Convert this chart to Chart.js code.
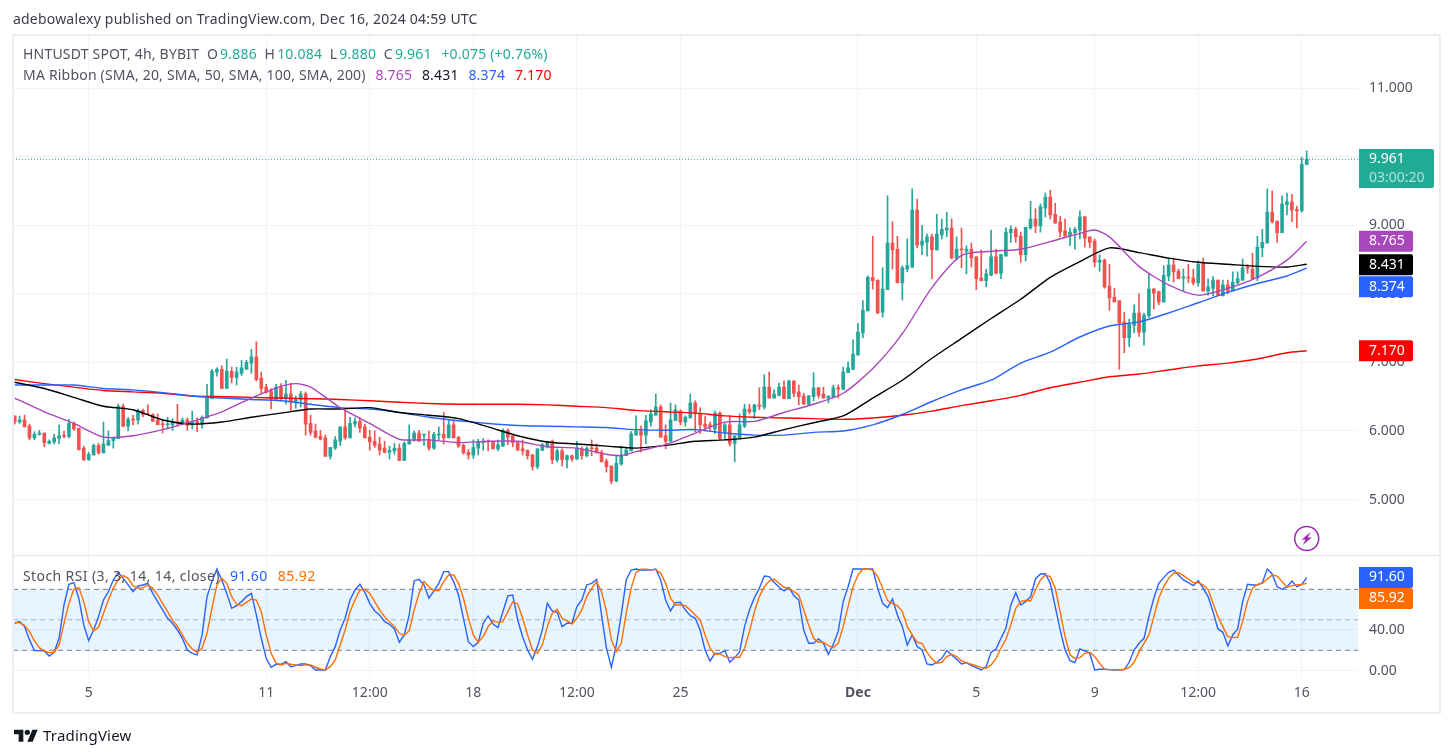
<!DOCTYPE html>
<html>
<head>
<meta charset="utf-8">
<title>HNTUSDT</title>
<script src="https://cdn.jsdelivr.net/npm/chart.js@4/dist/chart.umd.min.js"></script>
<style>
  html, body { margin: 0; padding: 0; background: #fff; }
  body { width: 1453px; height: 756px; position: relative; overflow: hidden; font-family: "Noto Sans", sans-serif; color: #50535e; }
  canvas { position: absolute; left: 0; }
  .txt { position: absolute; white-space: pre; font-size: 14px; line-height: 18px; letter-spacing: 0.2px; }
  .txt span { margin-left: 2px; }
  #frame { position: absolute; left: 12px; top: 34px; width: 1425px; height: 676px; border: 2px solid #eceef4; }
  #sep { position: absolute; left: 13px; top: 555px; width: 1426px; height: 1px; background: #e0e3eb; }
</style>
</head>
<body>
<canvas id="priceChart" width="1453" height="556" style="top:0"></canvas>
<canvas id="stochChart" width="1453" height="200" style="top:556px"></canvas>
<div id="frame"></div>
<div id="sep"></div>

<div class="txt" style="left:13px;top:10px;color:#3b3e47">adebowalexy published on TradingView.com, Dec 16, 2024 04:59 UTC</div>
<div class="txt" style="left:23px;top:45px">HNTUSDT SPOT, 4h, BYBIT  O<span style="color:#22ab94">9.886</span>  H<span style="color:#22ab94">10.084</span>  L<span style="color:#22ab94">9.880</span>  C<span style="color:#22ab94">9.961</span>  <span style="color:#22ab94">+0.075 (+0.76%)</span></div>
<div class="txt" style="left:23px;top:66px">MA Ribbon (SMA, 20, SMA, 50, SMA, 100, SMA, 200)  <span style="color:#ab47bc">8.765</span>  <span style="color:#131722">8.431</span>  <span style="color:#2962ff">8.374</span>  <span style="color:#ff0000">7.170</span></div>
<div class="txt" style="left:23px;top:567px;letter-spacing:0.4px">Stoch RSI (3, 3, 14, 14, close)  <span style="color:#2962ff">91.60</span>  <span style="color:#ff6d00">85.92</span></div>

<svg style="position:absolute;left:14px;top:727px" width="24" height="16" viewBox="0 0 36 24"><path fill="#131722" d="M14 22H7V11H0V4h14v18zM28 22h-8l7.5-18h8L28 22z"/><circle fill="#131722" cx="20" cy="8" r="4"/></svg>
<div class="txt" style="left:43px;top:726px;color:#131722;font-size:15px">TradingView</div>

<script>
// 4h candles, oldest first
const opens = [
  6.22,6.13,6.16,6.07,5.90,5.95,5.97,5.82,5.84,5.89,
  5.93,5.92,6.11,6.04,5.75,5.58,5.65,5.79,5.68,5.79,
  5.86,5.89,6.36,6.07,6.17,6.16,6.30,6.25,6.24,6.16,
  6.10,6.09,6.09,6.13,6.10,6.16,6.09,6.14,6.12,6.19,
  6.47,6.86,6.90,6.62,6.87,6.78,6.84,6.90,6.99,7.08,
  6.77,6.64,6.58,6.46,6.64,6.48,6.54,6.42,6.45,6.54,
  6.11,6.00,5.92,5.90,5.63,5.75,5.85,6.06,5.90,6.10,
  6.14,6.06,5.91,5.85,5.81,5.75,5.69,5.71,5.75,5.57,
  5.81,5.87,5.97,5.94,5.88,5.75,5.94,5.95,5.90,6.09,
  5.91,5.79,5.69,5.65,5.75,5.83,5.85,5.85,5.74,5.78,
  6.01,5.93,5.83,5.74,5.72,5.65,5.48,5.72,5.77,5.85,
  5.58,5.71,5.58,5.64,5.59,5.74,5.64,5.75,5.75,5.69,
  5.56,5.49,5.27,5.52,5.64,5.71,5.94,6.00,5.94,6.13,
  6.23,6.35,5.93,5.85,6.15,6.29,6.13,6.19,6.41,6.26,
  6.10,6.09,6.03,6.26,5.98,6.09,5.82,5.89,6.07,6.32,
  6.28,6.38,6.35,6.64,6.48,6.52,6.64,6.47,6.73,6.57,
  6.51,6.39,6.50,6.63,6.54,6.48,6.50,6.63,6.61,6.85,
  6.90,7.11,7.43,7.75,8.24,8.20,7.73,8.06,8.74,8.65,
  8.16,8.36,8.39,9.22,8.71,8.75,8.83,8.64,8.86,8.93,
  8.96,8.52,8.65,8.62,8.65,8.54,8.23,8.19,8.27,8.54,
  8.30,8.55,8.89,8.94,8.84,8.57,8.96,9.09,8.99,9.25,
  9.41,9.16,9.05,8.92,8.84,8.89,8.93,9.12,8.83,8.77,
  8.46,8.49,8.11,7.95,7.90,7.59,7.36,7.54,7.72,7.44,
  7.68,8.07,8.03,7.88,8.26,8.42,8.33,8.23,8.24,8.23,
  8.16,8.46,8.04,8.08,8.20,7.97,8.13,8.04,8.16,8.20,
  8.38,8.36,8.23,8.67,8.74,9.19,9.06,8.89,9.30,9.34,
  9.23,9.21,9.886
];
const highs = [
  6.22,6.22,6.23,6.10,5.99,6.01,5.97,5.87,5.95,6.09,
  6.00,6.17,6.13,6.04,5.78,5.69,5.81,5.82,6.13,6.00,
  5.90,6.39,6.39,6.20,6.23,6.32,6.32,6.38,6.25,6.25,
  6.16,6.20,6.18,6.39,6.19,6.19,6.29,6.19,6.22,6.68,
  6.90,6.92,6.95,7.05,6.93,6.93,7.03,7.03,7.19,7.30,
  6.86,6.68,6.62,6.68,6.69,6.74,6.70,6.51,6.58,6.57,
  6.23,6.10,6.01,5.94,5.76,5.92,6.06,6.30,6.20,6.19,
  6.19,6.10,6.01,6.00,5.91,5.85,5.78,5.82,5.81,5.84,
  6.09,6.00,6.01,5.95,6.00,5.98,6.06,6.27,6.17,6.14,
  5.92,5.81,5.73,5.87,5.88,5.89,5.87,5.85,5.87,6.03,
  6.03,5.93,5.83,5.87,5.72,5.66,5.74,5.82,5.85,5.87,
  5.74,5.74,5.65,5.65,5.85,5.77,5.77,5.87,5.81,5.72,
  5.59,5.49,5.65,5.78,5.75,5.99,6.22,6.07,6.23,6.31,
  6.54,6.38,6.09,6.41,6.38,6.31,6.22,6.54,6.44,6.34,
  6.21,6.13,6.29,6.28,6.11,6.22,5.93,6.25,6.39,6.39,
  6.39,6.63,6.82,6.86,6.60,6.70,6.73,6.74,6.73,6.67,
  6.55,6.52,6.85,6.63,6.64,6.51,6.67,6.67,6.93,7.01,
  7.33,7.57,7.90,8.26,8.84,8.20,8.38,9.43,9.05,8.84,
  8.41,8.80,9.53,9.38,9.00,8.87,8.87,9.16,9.09,9.19,
  9.09,8.83,8.96,8.70,8.74,8.54,8.64,8.36,8.93,8.65,
  8.58,8.96,8.99,8.97,8.90,8.97,9.35,9.24,9.31,9.47,
  9.51,9.32,9.13,9.09,8.96,8.97,9.21,9.13,8.83,8.80,
  8.57,8.51,8.43,8.08,7.90,7.73,7.63,7.84,8.00,7.72,
  8.29,8.08,8.04,8.41,8.52,8.52,8.36,8.36,8.43,8.36,
  8.48,8.52,8.22,8.25,8.20,8.20,8.20,8.32,8.32,8.51,
  8.43,8.59,8.84,8.94,9.53,9.50,9.06,9.43,9.47,9.45,
  9.28,9.99,10.084
];
const lows = [
  6.10,6.11,6.06,5.87,5.87,5.94,5.77,5.81,5.81,5.81,
  5.90,5.90,6.01,5.72,5.57,5.57,5.65,5.66,5.68,5.79,
  5.75,5.89,6.06,6.00,6.09,6.10,6.21,6.23,6.14,6.09,
  5.97,6.03,6.01,6.07,6.09,6.01,6.03,5.99,6.04,6.19,
  6.47,6.80,6.62,6.62,6.70,6.67,6.81,6.90,6.84,6.73,
  6.55,6.55,6.32,6.46,6.46,6.39,6.30,6.33,6.35,5.94,
  5.94,5.90,5.87,5.63,5.59,5.73,5.79,5.88,5.90,6.06,
  5.98,5.90,5.72,5.76,5.65,5.68,5.59,5.66,5.57,5.57,
  5.81,5.85,5.85,5.79,5.72,5.73,5.87,5.81,5.90,5.90,
  5.76,5.66,5.59,5.60,5.65,5.72,5.71,5.74,5.71,5.77,
  5.80,5.77,5.72,5.65,5.59,5.43,5.45,5.71,5.75,5.52,
  5.55,5.49,5.46,5.56,5.59,5.59,5.62,5.64,5.68,5.55,
  5.40,5.23,5.26,5.50,5.64,5.71,5.94,5.69,5.81,6.07,
  6.23,5.91,5.74,5.85,6.15,6.09,6.07,6.19,5.99,5.96,
  6.00,6.00,5.96,5.87,5.87,5.78,5.55,5.88,6.05,6.25,
  6.18,6.31,6.32,6.48,6.48,6.51,6.47,6.47,6.50,6.38,
  6.39,6.38,6.44,6.48,6.48,6.41,6.48,6.48,6.60,6.85,
  6.89,7.10,7.36,7.75,8.07,7.71,7.66,8.06,8.36,8.16,
  7.91,8.32,8.38,8.67,8.57,8.55,8.22,8.64,8.80,8.83,
  8.51,8.49,8.38,8.29,8.39,8.06,8.19,8.10,8.26,8.29,
  8.22,8.55,8.75,8.75,8.46,8.48,8.94,8.89,8.90,9.12,
  9.09,9.03,8.83,8.84,8.70,8.65,8.80,8.68,8.67,8.39,
  8.33,8.08,7.76,7.88,6.90,7.14,7.23,7.43,7.38,7.25,
  7.65,7.78,7.84,7.88,8.19,8.17,8.22,8.03,8.16,8.13,
  8.11,8.04,7.98,7.97,7.98,7.97,8.00,8.04,8.14,8.19,
  8.30,8.22,8.19,8.54,8.74,9.03,8.75,8.89,9.15,9.05,
  8.96,9.19,9.880
];
const closes = [
  6.13,6.16,6.06,5.90,5.95,5.97,5.83,5.85,5.90,5.93,
  5.92,6.11,6.03,5.73,5.58,5.66,5.79,5.68,5.81,5.86,
  5.90,6.36,6.07,6.17,6.16,6.30,6.24,6.24,6.14,6.09,
  6.09,6.10,6.13,6.12,6.16,6.08,6.14,6.12,6.20,6.48,
  6.87,6.90,6.62,6.87,6.78,6.86,6.92,7.00,7.08,6.75,
  6.62,6.56,6.46,6.64,6.47,6.54,6.43,6.46,6.54,6.10,
  5.98,5.91,5.88,5.63,5.76,5.87,6.06,5.90,6.11,6.14,
  6.04,5.90,5.84,5.79,5.72,5.69,5.72,5.75,5.57,5.82,
  5.88,5.97,5.85,5.95,5.75,5.95,5.95,5.90,6.09,5.90,
  5.78,5.68,5.65,5.76,5.84,5.84,5.84,5.74,5.80,6.01,
  5.91,5.83,5.72,5.71,5.64,5.48,5.74,5.80,5.85,5.58,
  5.71,5.58,5.64,5.59,5.75,5.64,5.75,5.74,5.68,5.55,
  5.48,5.27,5.53,5.65,5.72,5.96,6.00,5.94,6.15,6.25,
  6.35,5.91,5.85,6.16,6.31,6.13,6.20,6.41,6.26,6.09,
  6.06,6.06,6.26,5.89,6.09,5.82,5.93,6.09,6.32,6.28,
  6.38,6.36,6.64,6.48,6.54,6.64,6.47,6.73,6.55,6.50,
  6.39,6.51,6.63,6.52,6.48,6.51,6.63,6.61,6.86,6.92,
  7.12,7.44,7.76,8.24,8.19,7.72,8.07,8.74,8.64,8.16,
  8.38,8.41,9.22,8.71,8.77,8.83,8.64,8.87,8.94,8.96,
  8.52,8.65,8.64,8.65,8.52,8.22,8.19,8.29,8.54,8.30,
  8.57,8.90,8.94,8.83,8.57,8.97,9.09,8.99,9.27,9.41,
  9.15,9.03,8.90,8.84,8.90,8.94,9.12,8.81,8.75,8.46,
  8.49,8.10,7.94,7.88,7.57,7.36,7.56,7.72,7.44,7.69,
  8.07,8.01,7.88,8.27,8.42,8.32,8.22,8.24,8.23,8.16,
  8.43,8.04,8.10,8.20,7.98,8.13,8.04,8.17,8.22,8.38,
  8.37,8.22,8.68,8.75,9.19,9.05,8.89,9.31,9.34,9.22,
  9.21,9.89,9.961
];

// moving averages, read about once a day off the picture
const maBars = [0,6,12,18,24,30,36,42,48,54,60,66,72,78,84,90,96,102,108,114,120,126,132,138,144,150,156,162,168,174,180,186,192,198,204,210,216,222,228,234,240,246,252,258,262];
const sma200 = [6.75,6.69,6.64,6.59,6.57,6.55,6.51,6.50,6.49,6.48,6.47,6.46,6.44,6.42,6.40,6.39,6.39,6.39,6.38,6.36,6.34,6.30,6.28,6.26,6.22,6.20,6.19,6.18,6.17,6.19,6.23,6.29,6.37,6.44,6.52,6.63,6.71,6.79,6.83,6.89,6.95,6.99,7.05,7.14,7.17];
const sma100 = [6.67,6.67,6.67,6.62,6.60,6.56,6.51,6.48,6.46,6.44,6.39,6.34,6.32,6.27,6.20,6.15,6.11,6.08,6.07,6.06,6.05,6.02,6.01,6.02,5.97,5.94,5.94,5.98,6.00,6.09,6.24,6.43,6.60,6.74,6.99,7.15,7.37,7.53,7.59,7.72,7.87,8.02,8.15,8.26,8.374];
const sma50 = [6.71,6.62,6.49,6.36,6.31,6.16,6.10,6.13,6.20,6.26,6.32,6.32,6.34,6.27,6.23,6.18,6.06,5.93,5.84,5.81,5.78,5.75,5.79,5.85,5.87,5.91,6.02,6.12,6.22,6.48,6.74,7.06,7.35,7.64,7.92,8.24,8.47,8.67,8.60,8.52,8.46,8.43,8.40,8.39,8.431];
const sma20Bars = [0,6,12,18,24,30,36,42,48,54,57,60,66,72,78,84,90,96,102,108,114,120,123,126,132,138,144,150,156,162,168,174,180,186,192,198,204,210,216,219,222,228,234,240,246,252,258,262];
const sma20 = [6.48,6.28,6.11,5.91,5.93,6.02,6.14,6.28,6.48,6.65,6.69,6.64,6.34,6.11,5.88,5.87,5.83,5.85,5.85,5.77,5.75,5.66,5.64,5.70,5.80,5.97,6.13,6.14,6.27,6.39,6.55,6.91,7.42,8.09,8.56,8.62,8.65,8.76,8.88,8.93,8.83,8.40,8.13,7.98,8.08,8.24,8.49,8.765];

// Stoch RSI, one value per candle
const stochK = [
  46.6,48.2,43.3,30.2,19.7,19.7,19.3,14.4,18,31.8,
  64.6,84.9,86.6,71.2,44.9,29.5,40,53.1,69.5,77.7,
  89.2,96.7,90.8,84.3,77.7,83.3,84.3,85.9,76,67.9,
  59.7,51.5,46.6,40,31.8,20.3,17,15.4,35.1,72.8,
  87.6,100,89.2,76,61.3,63.9,67.9,72.8,76,54.8,
  31.8,12.1,3.3,6.2,6.2,8.8,3.9,4.9,6.5,6.5,
  4.9,.6,.6,.6,13.8,23.6,40,51.5,69.5,79.4,
  85,77,66.2,58.7,54.8,48.2,45.6,41,27.9,35.1,
  54.8,88.5,89.9,84.3,71.2,78.4,85.9,97.4,97.4,87.6,
  74.4,51.5,28.5,23.6,27.9,46.6,53.8,45.9,42.3,58,
  73.5,74.4,49.8,33.4,20.3,11.1,23.6,40,66.2,58.7,
  57.4,43.3,46.6,46.6,63,69.5,84.3,85.9,89.9,54.8,
  22,3.3,25.2,54.8,89.2,99,100,99,99,99,
  100,89.2,69.5,58.7,66.9,67.2,59.7,54.1,51.5,40,
  20.3,9.5,17,17,19.7,8.2,12.8,18.7,43.3,59.7,
  71.8,81,93.1,92.5,86.9,82,78.4,81.7,73.8,69.5,
  40,26.9,26.9,31.1,26.9,16.1,25.9,38.6,67.9,82.6,
  100,100,100,100,100,81,66.2,62,70.5,54.8,
  43.3,25.2,35.1,23.6,20.3,6.5,5.6,8.2,12.1,19.7,
  15.4,11.1,6.5,7.9,4.9,2.9,.6,3.9,18,21.3,
  31.8,41.6,64.6,76.7,64.6,67.9,72.8,90.2,95.1,95.4,
  85.9,63,40,20.3,9.8,7.9,21.3,19.3,17,.6,
  1.3,1.3,1,.6,.6,1,8.2,20.3,26.9,31.8,
  53.1,71.2,85.9,91.5,96.7,99,94.1,89.2,86.6,83.6,
  88.5,81,72.8,58,41,37.7,24.3,35.1,41,67.9,
  84.9,84.3,84.3,86.6,100,95.1,82.6,80,82.6,88.2,
  82.6,84.9,91.6
];
const stochD = [
  47.2,47.2,44.3,38.4,29.2,22.6,19.3,17.7,18,25.2,
  46.6,66.2,80.3,81.7,67.9,48.2,39,42.6,56.4,69.5,
  81,90.2,93.5,90.8,83.6,81,81.7,84.3,81,74.4,
  66.2,58,49.8,43.3,35.1,26.9,21.3,18,22,36.7,
  61.3,84.3,90.8,85.9,72.8,65.3,63.9,67.2,70.5,69.5,
  58,35.1,17,7.2,5.6,7.2,6.2,5.6,4.9,5.6,
  5.6,3.3,1.6,.6,3.9,10.5,25.2,40,58,69.5,
  79.4,80,76,67.9,59.7,53.1,48.2,43.3,36.7,34.4,
  39.3,59.7,76,87.6,82.6,78.7,78.7,87.6,94.1,94.1,
  85.9,71.2,51.5,35.1,27.9,33.4,43.3,48.9,47.5,48.2,
  58,67.9,65.6,51.5,35.1,20.3,17,25.2,43.3,56.4,
  60.3,51.5,48.9,45.9,51.5,59.7,72.8,81,87.6,77.7,
  58,30.2,18.7,26.9,56.4,81,96.7,99.7,99.7,99.4,
  99.4,95.8,85.9,71.2,64.6,64.6,63.9,59.7,54.8,49.8,
  35.1,22,16.1,16.4,13.8,12.8,13.1,13.1,22,38.4,
  58,72.8,82.6,88.2,90.2,85.9,82,81,77.7,74.4,
  59.7,44.9,31.8,27.9,27.9,24.6,22.6,26.9,43.3,63,
  82.6,94.1,100,100,99,92.5,81,68.9,66.2,63.9,
  58,43.3,35.1,27.9,26.9,18,11.5,7.2,8.2,13.8,
  16.1,13.8,9.5,7.9,6.2,4.9,2.9,2.3,5.6,12.1,
  22,30.8,44.9,61.3,67.9,69.2,68.5,79.4,89.2,94.1,
  92.5,81,58,33.4,15.4,12.1,12.8,17,18,13.8,
  7.2,1.3,1,1,.6,1.3,2.9,8.2,18.7,26.9,
  35.1,53.1,71.2,82.6,90.8,95.8,96.4,93.5,90.2,86.6,
  86.6,84.3,80,66.2,53.1,43.3,33.4,32.5,32.8,48.2,
  67.9,81,84.9,85.9,90.2,94.1,93.1,87.6,82,83.6,
  84.3,84.9,85.92
];

// axis ticks
const priceTicks = [5, 6, 7, 8, 9, 10, 11];
const stochTicks = [0, 40];
const timeTickBars = [15, 51, 72, 93, 114, 135, 171, 195, 219, 240, 261];
const timeTickLabels = ["5", "11", "12:00", "18", "12:00", "25", "Dec", "5", "9", "12:00", "16"];
const lastPrice = 9.961;

// the visible window, in bars
const xMin = -0.345;
const xMax = 272.4;

const UP = "#26a69a";
const DOWN = "#ef5350";
const TAG_UP = "#22ab94";
const GRID = "#f0f3fa";
const FONT = '"Noto Sans", sans-serif';
const candleColors = opens.map((o, i) => (closes[i] >= o ? UP : DOWN));

function pairs(bars, values) {
  return bars.map((b, i) => ({ x: b, y: values[i] }));
}

function lineSet(label, data, color, width) {
  return { type: "line", label, data, borderColor: color, borderWidth: width, pointRadius: 0, tension: 0.25, order: 1 };
}

// scales must not reserve room for their labels inside the panes
function noPadding(s) {
  s.paddingTop = 0;
  s.paddingBottom = 0;
  s.paddingLeft = 0;
  s.paddingRight = 0;
}

function xScale() {
  return {
    type: "linear",
    min: xMin,
    max: xMax,
    offset: false,
    afterBuildTicks: (s) => { s.ticks = timeTickBars.map((v) => ({ value: v })); },
    grid: { color: GRID, drawTicks: false, offset: false },
    border: { display: false },
  };
}

// coloured value tags on the price scale
function drawTag(ctx, text, color, y) {
  ctx.fillStyle = color;
  ctx.beginPath();
  ctx.roundRect(1359, y - 10.5, 54, 21, [0, 2, 2, 0]);
  ctx.fill();
  ctx.fillStyle = "#fff";
  ctx.font = "14px " + FONT;
  ctx.textAlign = "left";
  ctx.textBaseline = "middle";
  ctx.fillText(text, 1369, y);
}

const priceTags = {
  id: "priceTags",
  afterDraw(chart) {
    const ctx = chart.ctx;
    const y = chart.scales.y;
    ctx.save();
    // last price with the countdown below it
    ctx.fillStyle = TAG_UP;
    ctx.beginPath();
    ctx.roundRect(1359, 149, 75, 39, [0, 2, 2, 0]);
    ctx.fill();
    ctx.font = "14px " + FONT;
    ctx.textBaseline = "middle";
    ctx.fillStyle = "#fff";
    ctx.fillText(lastPrice.toFixed(3), 1369, 159);
    ctx.fillStyle = "rgba(255,255,255,0.65)";
    ctx.fillText("03:00:20", 1369, 178);

    drawTag(ctx, sma20[sma20.length - 1].toFixed(3), "#ab47bc", y.getPixelForValue(sma20[sma20.length - 1]));
    drawTag(ctx, sma50[sma50.length - 1].toFixed(3), "#000000", y.getPixelForValue(sma50[sma50.length - 1]) + 0.5);
    // pushed down so it does not sit on the black tag
    drawTag(ctx, sma100[sma100.length - 1].toFixed(3), "#2962ff", y.getPixelForValue(sma100[sma100.length - 1]) + 18.5);
    drawTag(ctx, sma200[sma200.length - 1].toFixed(3), "#ff0000", y.getPixelForValue(sma200[sma200.length - 1]));

    // lightning badge
    const bx = chart.scales.x.getPixelForValue(262);
    ctx.strokeStyle = "#9c27b0";
    ctx.lineWidth = 1.5;
    ctx.beginPath();
    ctx.arc(bx, 538.5, 12, 0, Math.PI * 2);
    ctx.stroke();
    ctx.fillStyle = "#9c27b0";
    ctx.beginPath();
    ctx.moveTo(bx + 4, 532);
    ctx.lineTo(bx - 5, 539.5);
    ctx.lineTo(bx - 1, 539.5);
    ctx.lineTo(bx - 4, 545);
    ctx.lineTo(bx + 5, 537.5);
    ctx.lineTo(bx + 1, 537.5);
    ctx.closePath();
    ctx.fill();
    ctx.restore();
  },
};

const stochTags = {
  id: "stochTags",
  afterDraw(chart) {
    const ctx = chart.ctx;
    ctx.save();
    drawTag(ctx, "91.60", "#2962ff", 21.5);
    drawTag(ctx, "85.92", "#ff6d00", 42.5);
    ctx.restore();
  },
};

new Chart(document.getElementById("priceChart"), {
  data: {
    datasets: [
      lineSet("SMA 20", pairs(sma20Bars, sma20), "#ab47bc", 1.4),
      lineSet("SMA 50", pairs(maBars, sma50), "#000000", 1.4),
      lineSet("SMA 100", pairs(maBars, sma100), "#2962ff", 1.4),
      lineSet("SMA 200", pairs(maBars, sma200), "#ff0000", 1.4),
      {
        type: "line",
        label: "Last",
        data: [{ x: xMin, y: lastPrice }, { x: xMax, y: lastPrice }],
        borderColor: TAG_UP,
        borderWidth: 1,
        borderDash: [1, 2],
        pointRadius: 0,
        order: 1,
      },
      {
        type: "bar",
        label: "Body",
        data: opens.map((o, i) => ({ x: i, y: [o, closes[i]] })),
        backgroundColor: candleColors,
        barThickness: 3,
        minBarLength: 1,
        grouped: false,
        order: 2,
      },
      {
        type: "bar",
        label: "Wick",
        data: highs.map((h, i) => ({ x: i, y: [lows[i], h] })),
        backgroundColor: candleColors,
        barThickness: 1,
        grouped: false,
        order: 3,
      },
    ],
  },
  options: {
    responsive: false,
    animation: false,
    devicePixelRatio: 1,
    layout: { autoPadding: false, padding: { left: 13, top: 35, right: 0, bottom: 1 } },
    plugins: { legend: { display: false }, tooltip: { enabled: false } },
    scales: {
      x: Object.assign(xScale(), {
        ticks: { display: false },
        afterFit: (s) => { s.height = 0; noPadding(s); },
      }),
      y: {
        position: "right",
        min: 4.192,
        max: 11.773,
        afterBuildTicks: (s) => { s.ticks = priceTicks.map((v) => ({ value: v })); },
        afterFit: (s) => { s.width = 95; noPadding(s); },
        grid: { color: GRID, drawTicks: false },
        border: { display: false },
        ticks: {
          padding: 11,
          color: "#50535e",
          font: { family: FONT, size: 14 },
          callback: (v) => v.toFixed(3),
        },
      },
    },
  },
  plugins: [priceTags],
});

new Chart(document.getElementById("stochChart"), {
  data: {
    labels: [],
    datasets: [
      {
        type: "line",
        label: "Upper",
        data: [{ x: xMin, y: 80 }, { x: xMax, y: 80 }],
        borderColor: "#787b86",
        borderWidth: 1,
        borderDash: [5, 4],
        pointRadius: 0,
        backgroundColor: "rgba(33,150,243,0.1)",
        fill: "+1",
        order: 3,
      },
      {
        type: "line",
        label: "Lower",
        data: [{ x: xMin, y: 20 }, { x: xMax, y: 20 }],
        borderColor: "#787b86",
        borderWidth: 1,
        borderDash: [5, 4],
        pointRadius: 0,
        order: 3,
      },
      {
        type: "line",
        label: "Middle",
        data: [{ x: xMin, y: 50 }, { x: xMax, y: 50 }],
        borderColor: "rgba(120,123,134,0.55)",
        borderWidth: 1,
        borderDash: [5, 4],
        pointRadius: 0,
        order: 3,
      },
      {
        type: "line",
        label: "%D",
        data: stochD.map((v, i) => ({ x: i, y: v })),
        borderColor: "#ff6d00",
        borderWidth: 1.4,
        pointRadius: 0,
        order: 1,
      },
      {
        type: "line",
        label: "%K",
        data: stochK.map((v, i) => ({ x: i, y: v })),
        borderColor: "#2962ff",
        borderWidth: 1.4,
        pointRadius: 0,
        order: 2,
      },
    ],
  },
  options: {
    responsive: false,
    animation: false,
    devicePixelRatio: 1,
    layout: { autoPadding: false, padding: { left: 13, top: 0, right: 0, bottom: 0 } },
    plugins: { legend: { display: false }, tooltip: { enabled: false } },
    scales: {
      x: Object.assign(xScale(), {
        afterFit: (s) => { s.height = 79; noPadding(s); },
        ticks: {
          padding: 8,
          autoSkip: false,
          maxRotation: 0,
          color: "#50535e",
          font: (c) => ({ family: FONT, size: 14, weight: timeTickLabels[c.index] === "Dec" ? "bold" : "normal" }),
          callback: (v, i) => timeTickLabels[i],
        },
      }),
      y: {
        position: "right",
        min: -6.3,
        max: 112.8,
        afterBuildTicks: (s) => { s.ticks = stochTicks.map((v) => ({ value: v })); },
        afterFit: (s) => { s.width = 95; noPadding(s); },
        grid: { color: GRID, drawTicks: false },
        border: { display: false },
        ticks: {
          padding: 11,
          color: "#50535e",
          font: { family: FONT, size: 14 },
          callback: (v) => v.toFixed(2),
        },
      },
    },
  },
  plugins: [stochTags],
});
</script>
</body>
</html>
